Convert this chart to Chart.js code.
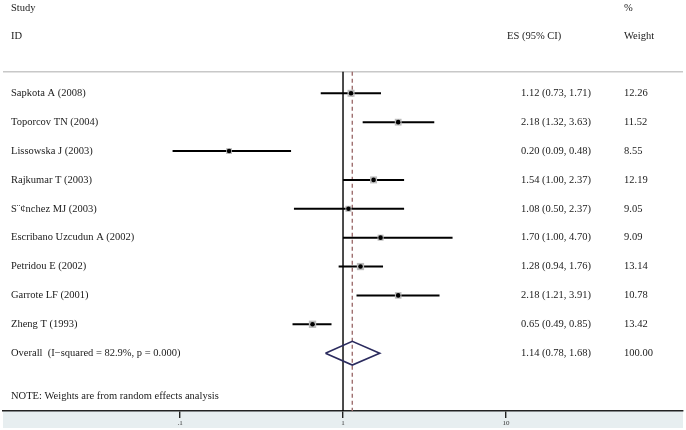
<!DOCTYPE html>
<html>
<head>
<meta charset="utf-8">
<script src="https://cdn.jsdelivr.net/npm/chart.js@4/dist/chart.umd.min.js"></script>
<style>
  html, body { margin: 0; padding: 0; background: #ffffff; }
  #wrap { width: 686px; height: 430px; }
</style>
</head>
<body>
<div id="wrap"><canvas id="c" width="686" height="430"></canvas></div>
<script>
// ---------- data ----------
const studies = ['Sapkota A (2008)', 'Toporcov TN (2004)', 'Lissowska J (2003)', 'Rajkumar T (2003)',
  'S\u00a8\u00a2nchez MJ (2003)', 'Escribano Uzcudun A (2002)', 'Petridou E (2002)', 'Garrote LF (2001)', 'Zheng T (1993)'];
const es      = [1.12, 2.18, 0.20, 1.54, 1.08, 1.70, 1.28, 2.18, 0.65];
const ciLow   = [0.73, 1.32, 0.09, 1.00, 0.50, 1.00, 0.94, 1.21, 0.49];
const ciHigh  = [1.71, 3.63, 0.48, 2.37, 2.37, 4.70, 1.76, 3.91, 0.85];
const weights = [12.26, 11.52, 8.55, 12.19, 9.05, 9.09, 13.14, 10.78, 13.42];
const overallLabel = 'Overall  (I\u2212squared = 82.9%, p = 0.000)';
const overallES = 1.14, overallLow = 0.78, overallHigh = 1.68, overallWeight = 100.00;
const noteText = 'NOTE: Weights are from random effects analysis';
const tickValues = [0.1, 1, 10];
const tickLabels = ['.1', '1', '10'];

// ---------- layout (row units on the y scale) ----------
const Y_MIN = -3.231, Y_MAX = 11.003;
const ROW_STUDY_HDR = -2.954, ROW_ID_HDR = -1.967, ROW_RULE = -0.748, ROW_NOTE = 10.507;
const ROW_OVERALL = studies.length;
const X_MIN = 0.0082, X_MAX = 121.9;
const FONT = '10.5px "Liberation Serif", "Times New Roman", serif';

const fmt = v => v.toFixed(2);

// ---------- datasets ----------
const datasets = [];
// black centre dots (drawn on top)
datasets.push({
  type: 'scatter', label: 'dots', order: 0,
  data: es.map((v, i) => ({ x: v, y: i })),
  pointStyle: 'circle', pointRadius: 2.3, pointBackgroundColor: '#000', pointBorderWidth: 0
});
// grey weight boxes
datasets.push({
  type: 'scatter', label: 'boxes', order: 1,
  data: es.map((v, i) => ({ x: v, y: i })),
  pointStyle: 'rect', pointRadius: weights.map(w => 2.0 * Math.sqrt(w) / Math.SQRT2),
  pointBackgroundColor: '#bcbcbc', pointBorderWidth: 0
});
// CI whiskers
es.forEach((v, i) => {
  datasets.push({
    type: 'line', label: 'ci' + i, order: 2, showLine: true,
    data: [{ x: ciLow[i], y: i }, { x: ciHigh[i], y: i }],
    borderColor: '#000', borderWidth: 2, pointRadius: 0, tension: 0
  });
});
// overall diamond
datasets.push({
  type: 'line', label: 'diamond', order: 2, showLine: true,
  data: [{ x: overallLow, y: ROW_OVERALL }, { x: overallES, y: ROW_OVERALL - 0.41 },
         { x: overallHigh, y: ROW_OVERALL }, { x: overallES, y: ROW_OVERALL + 0.41 },
         { x: overallLow, y: ROW_OVERALL }],
  borderColor: '#2b2b5e', borderWidth: 1.6, pointRadius: 0, tension: 0, fill: false
});
// null line at 1
datasets.push({
  type: 'line', label: 'null', order: 3, showLine: true,
  data: [{ x: 1, y: ROW_RULE }, { x: 1, y: Y_MAX }],
  borderColor: '#000', borderWidth: 1.4, pointRadius: 0
});
// dashed overall line
datasets.push({
  type: 'line', label: 'overallLine', order: 3, showLine: true,
  data: [{ x: overallES, y: ROW_RULE }, { x: overallES, y: Y_MAX }],
  borderColor: '#a07070', borderWidth: 1.4, borderDash: [4, 3], pointRadius: 0
});
// header rule
datasets.push({
  type: 'line', label: 'rule', order: 4, showLine: true,
  data: [{ x: X_MIN, y: ROW_RULE }, { x: X_MAX, y: ROW_RULE }],
  borderColor: '#c8c8c8', borderWidth: 1.5, pointRadius: 0
});

// ---------- plugins ----------
const bandPlugin = {
  id: 'band',
  beforeDraw(chart) {
    const { ctx, chartArea } = chart;
    ctx.save();
    ctx.fillStyle = '#e7eef0';
    ctx.fillRect(chartArea.left, chartArea.bottom, chartArea.right - chartArea.left, chart.height - chartArea.bottom - 2);
    ctx.restore();
  }
};

const textPlugin = {
  id: 'texts',
  afterDraw(chart) {
    const { ctx } = chart;
    const y = chart.scales.y;
    ctx.save();
    ctx.font = FONT;
    ctx.fillStyle = '#1a1a1a';
    ctx.textBaseline = 'middle';
    ctx.textAlign = 'left';
    // headers
    ctx.fillText('Study', 11, y.getPixelForValue(ROW_STUDY_HDR));
    ctx.fillText('ID', 11, y.getPixelForValue(ROW_ID_HDR));
    ctx.fillText('%', 624, y.getPixelForValue(ROW_STUDY_HDR));
    ctx.fillText('ES (95% CI)', 507, y.getPixelForValue(ROW_ID_HDR));
    ctx.fillText('Weight', 624, y.getPixelForValue(ROW_ID_HDR));
    // rows
    studies.forEach((s, i) => {
      const py = y.getPixelForValue(i);
      ctx.fillText(s, 11, py);
      ctx.fillText(fmt(es[i]) + ' (' + fmt(ciLow[i]) + ', ' + fmt(ciHigh[i]) + ')', 521, py);
      ctx.fillText(fmt(weights[i]), 624, py);
    });
    const po = y.getPixelForValue(ROW_OVERALL);
    ctx.fillText(overallLabel, 11, po);
    ctx.fillText(fmt(overallES) + ' (' + fmt(overallLow) + ', ' + fmt(overallHigh) + ')', 521, po);
    ctx.fillText(fmt(overallWeight), 624, po);
    ctx.fillText(noteText, 11, y.getPixelForValue(ROW_NOTE));
    ctx.restore();
  }
};

new Chart(document.getElementById('c'), {
  type: 'scatter',
  data: { datasets },
  options: {
    responsive: false,
    animation: false,
    events: [],
    layout: { autoPadding: false, padding: { left: 3, right: 3, top: 0, bottom: 0 } },
    plugins: { legend: { display: false }, tooltip: { enabled: false } },
    scales: {
      x: {
        type: 'logarithmic',
        position: 'bottom',
        min: X_MIN, max: X_MAX,
        bounds: 'data',
        afterDataLimits(s) { s.min = X_MIN; s.max = X_MAX; },
        afterBuildTicks(s) { s.ticks = tickValues.map(v => ({ value: v })); },
        afterFit(s) { s.height = 19; },
        border: { display: true, color: '#222', width: 1.5 },
        grid: { display: true, drawOnChartArea: false, drawTicks: true, tickLength: 7, color: '#222', lineWidth: 1.4 },
        ticks: {
          autoSkip: false, maxRotation: 0, padding: 1,
          color: '#333',
          font: { family: '"Liberation Serif", serif', size: 7 },
          callback: (v) => { const k = tickValues.indexOf(v); return k >= 0 ? tickLabels[k] : ''; }
        }
      },
      y: {
        type: 'linear', display: false, reverse: true,
        min: Y_MIN, max: Y_MAX
      }
    }
  },
  plugins: [bandPlugin, textPlugin]
});
</script>
</body>
</html>
